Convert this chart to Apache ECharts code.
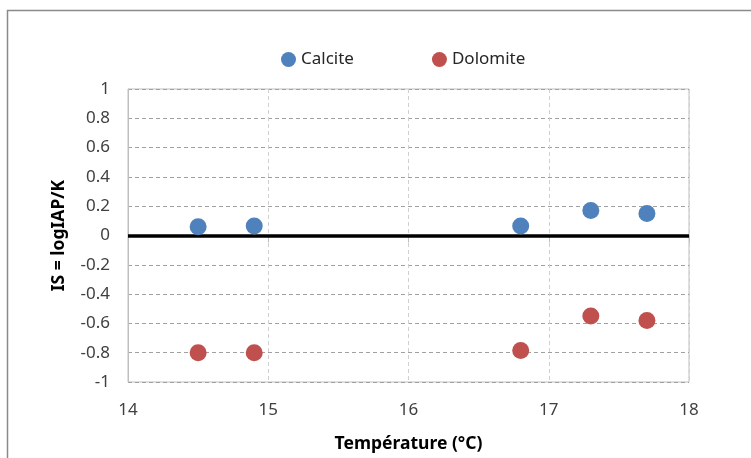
<!DOCTYPE html>
<html>
<head>
<meta charset="utf-8">
<script src="https://cdn.jsdelivr.net/npm/echarts@6/dist/echarts.min.js"></script>
<style>
html,body{margin:0;padding:0;background:#fff;}
#c{width:751px;height:458px;}
</style>
</head>
<body>
<div id="c"></div>
<script>
var temperatures = [14.5, 14.9, 16.8, 17.3, 17.7];
var calcite = [0.06, 0.065, 0.065, 0.17, 0.15];
var dolomite = [-0.80, -0.80, -0.785, -0.55, -0.58];
var seriesNames = ['Calcite', 'Dolomite'];
var xTitle = 'Température (°C)';
var yTitle = 'IS = logIAP/K';

function pairs(xs, ys){ return xs.map(function(x,i){ return [x, ys[i]]; }); }

var font = 'Noto Sans';
var chart = echarts.init(document.getElementById('c'), null, {renderer:'canvas'});
chart.setOption({
  animation: false,
  textStyle: {fontFamily: font},
  graphic: [{
    type: 'rect', shape: {x: 7.5, y: 10.5, width: 800, height: 500},
    style: {fill: 'none', stroke: '#8a8a8a', lineWidth: 1.5}, silent: true, z: -1
  }],
  legend: {
    top: 46, left: 276, itemWidth: 15, itemHeight: 15, itemGap: 78,
    icon: 'circle',
    textStyle: {fontSize: 17, color: '#262626', fontFamily: font}
  },
  grid: {left: 128, right: 62, top: 89, bottom: 70, show: true, borderColor: '#bfbfbf', borderWidth: 1},
  xAxis: {
    type: 'value', min: 14, max: 18, interval: 1,
    name: xTitle, nameLocation: 'middle', nameGap: 53,
    nameTextStyle: {fontSize: 17.5, fontWeight: 'bold', color: '#000', fontFamily: font},
    axisLine: {show: true, lineStyle: {color: '#bfbfbf'}},
    axisTick: {show: true, length: 7, lineStyle: {color: '#bfbfbf'}},
    axisLabel: {fontSize: 17, color: '#404040', margin: 20},
    splitLine: {show: true, lineStyle: {color: '#d0d0d0', type: [4, 3]}}
  },
  yAxis: {
    type: 'value', min: -1, max: 1, interval: 0.2,
    name: yTitle, nameLocation: 'middle', nameGap: 60, nameRotate: 90,
    nameTextStyle: {fontSize: 17.5, fontWeight: 'bold', color: '#000', fontFamily: font},
    axisLine: {show: true, lineStyle: {color: '#bfbfbf'}},
    axisTick: {show: false},
    axisLabel: {fontSize: 17, color: '#404040', margin: 18},
    splitLine: {show: true, lineStyle: {color: '#a0a0a0', type: [4, 3]}}
  },
  series: [{
    name: seriesNames[0], type: 'scatter', symbolSize: 17,
    itemStyle: {color: '#4f81bd', opacity: 1},
    data: pairs(temperatures, calcite),
    z: 3,
    markLine: {
      silent: true, symbol: 'none', label: {show: false},
      lineStyle: {color: '#000', width: 3.5, type: 'solid'},
      data: [{yAxis: 0}], z: 2
    }
  }, {
    name: seriesNames[1], type: 'scatter', symbolSize: 17,
    itemStyle: {color: '#c0504d', opacity: 1},
    data: pairs(temperatures, dolomite),
    z: 3
  }]
});
</script>
</body>
</html>
